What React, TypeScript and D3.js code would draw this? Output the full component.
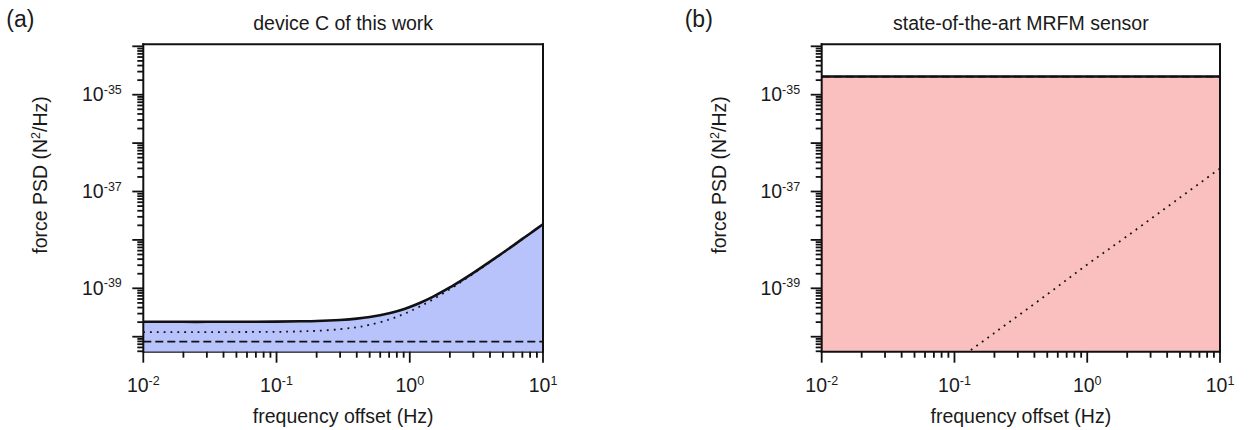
import React, { useRef, useEffect } from 'react';
import * as d3 from 'd3';

const W = 1249;
const H = 430;
const FONT = '"Liberation Sans", Arial, Helvetica, sans-serif';

// panel (a): device C of this work
const freqA = [0.01, 0.02, 0.03, 0.05, 0.1, 0.15, 0.2, 0.3, 0.4, 0.5, 0.7, 0.85, 1, 1.2, 1.5, 2, 2.5, 3, 4, 5, 6, 7, 8, 10];
const totalA = [2.03e-40, 2.03e-40, 2.03e-40, 2.04e-40, 2.05e-40, 2.08e-40, 2.11e-40, 2.22e-40, 2.36e-40, 2.55e-40, 3.05e-40, 3.54e-40, 4.12e-40, 5.04e-40, 6.73e-40, 1.04e-39, 1.51e-39, 2.08e-39, 3.55e-39, 5.43e-39, 7.73e-39, 1.05e-38, 1.36e-38, 2.11e-38];
const dottedA = [1.24e-40, 1.24e-40, 1.24e-40, 1.25e-40, 1.26e-40, 1.29e-40, 1.32e-40, 1.43e-40, 1.57e-40, 1.76e-40, 2.26e-40, 2.75e-40, 3.33e-40, 4.25e-40, 5.94e-40, 9.6e-40, 1.43e-39, 2.0e-39, 3.47e-39, 5.35e-39, 7.65e-39, 1.04e-38, 1.35e-38, 2.1e-38];
const dashedFreqA = [0.01, 10];
const dashedA = [7.9e-41, 7.9e-41];

// panel (b): state-of-the-art MRFM sensor
const freqB = [0.01, 10];
const totalB = [2.37e-35, 2.37e-35];
const dashedB = [2.36e-35, 2.36e-35];
const dottedFreqB = [0.1, 0.2, 0.5, 1, 2, 5, 10];
const dottedB = [3.0e-41, 1.2e-40, 7.5e-40, 3.1e-39, 1.2e-38, 7.5e-38, 3.0e-37];

// axes
const xDomain = [0.01, 10];
const yDomain = [4.9e-41, 1.1e-34];
const xTickExps = [-2, -1, 0, 1];
const yLabelExps = [-35, -37, -39];

const panels = [
  {
    id: 'a', letter: '(a)', title: 'device C of this work',
    left: 143.3, right: 543, fill: '#b9c3fb', bottomOnTop: false,
    solid: { f: freqA, v: totalA },
    dotted: { f: freqA, v: dottedA },
    dashed: { f: dashedFreqA, v: dashedA },
  },
  {
    id: 'b', letter: '(b)', title: 'state-of-the-art MRFM sensor',
    left: 821.7, right: 1220, fill: '#fac0c0', bottomOnTop: true,
    solid: { f: freqB, v: totalB },
    dotted: { f: dottedFreqB, v: dottedB },
    dashed: { f: freqB, v: dashedB },
  },
];

const TOP = 44.3;
const BOTTOM = 351.7;

const drawPanel = (svg, p) => {
  const x = d3.scaleLog().domain(xDomain).range([p.left, p.right]);
  const y = d3.scaleLog().domain(yDomain).range([BOTTOM, TOP]);
  const g = svg.append('g');
  const pts = (s) => s.f.map((f, i) => [f, s.v[i]]);

  const clipId = `clip-${p.id}`;
  g.append('clipPath').attr('id', clipId)
    .append('rect')
    .attr('x', p.left).attr('y', TOP)
    .attr('width', p.right - p.left).attr('height', BOTTOM - TOP);

  // bottom axis line sits under the fill in (a)
  if (!p.bottomOnTop) {
    g.append('line')
      .attr('x1', p.left).attr('x2', p.right)
      .attr('y1', BOTTOM).attr('y2', BOTTOM)
      .attr('stroke', '#111').attr('stroke-width', 2);
  }

  const area = d3.area()
    .x(d => x(d[0]))
    .y0(BOTTOM)
    .y1(d => y(d[1]))
    .curve(d3.curveCatmullRom);

  const line = d3.line()
    .x(d => x(d[0]))
    .y(d => y(d[1]))
    .curve(d3.curveCatmullRom);

  const plot = g.append('g').attr('clip-path', `url(#${clipId})`);

  plot.append('path')
    .attr('d', area(pts(p.solid)))
    .attr('fill', p.fill);

  plot.append('path')
    .attr('d', line(pts(p.dashed)))
    .attr('fill', 'none')
    .attr('stroke', '#111')
    .attr('stroke-width', 1.6)
    .attr('stroke-dasharray', '8,4');

  plot.append('path')
    .attr('d', line(pts(p.dotted)))
    .attr('fill', 'none')
    .attr('stroke', '#111')
    .attr('stroke-width', 1.8)
    .attr('stroke-dasharray', '1.8,5');

  plot.append('path')
    .attr('d', line(pts(p.solid)))
    .attr('fill', 'none')
    .attr('stroke', '#111')
    .attr('stroke-width', 2.6);

  // frame
  const frame = [
    [p.left, TOP, p.right, TOP],
    [p.right, TOP, p.right, BOTTOM],
    [p.left, TOP, p.left, BOTTOM],
  ];
  if (p.bottomOnTop) frame.push([p.left, BOTTOM, p.right, BOTTOM]);
  g.selectAll('.frame')
    .data(frame)
    .enter()
    .append('line')
    .attr('x1', d => d[0]).attr('y1', d => d[1])
    .attr('x2', d => d[2]).attr('y2', d => d[3])
    .attr('stroke', '#111')
    .attr('stroke-width', 2)
    .attr('stroke-linecap', 'square');

  // y ticks
  const yTicks = [];
  for (let e = -41; e <= -34; e++) {
    for (let k = 1; k <= 9; k++) {
      const v = k * Math.pow(10, e);
      if (v >= yDomain[0] && v <= yDomain[1]) yTicks.push({ v, major: k === 1 });
    }
  }
  g.selectAll('.ytick')
    .data(yTicks)
    .enter()
    .append('line')
    .attr('x1', d => p.left - (d.major ? 11 : 6))
    .attr('x2', p.left)
    .attr('y1', d => y(d.v)).attr('y2', d => y(d.v))
    .attr('stroke', '#111')
    .attr('stroke-width', 1.8);

  // x ticks
  const xTicks = [];
  for (let e = -2; e <= 1; e++) {
    for (let k = 1; k <= 9; k++) {
      const v = k * Math.pow(10, e);
      if (v <= xDomain[1] * 1.0001) xTicks.push({ v, major: k === 1 });
    }
  }
  g.selectAll('.xtick')
    .data(xTicks)
    .enter()
    .append('line')
    .attr('x1', d => x(d.v)).attr('x2', d => x(d.v))
    .attr('y1', BOTTOM)
    .attr('y2', d => BOTTOM + (d.major ? 11 : 6))
    .attr('stroke', '#111')
    .attr('stroke-width', 1.8);

  // y tick labels
  yLabelExps.forEach(e => {
    const t = g.append('text')
      .attr('x', p.left - 21.5)
      .attr('y', y(Math.pow(10, e)) + 6.5)
      .attr('text-anchor', 'end')
      .style('font-size', '19.5px');
    t.append('tspan').text('10');
    t.append('tspan').attr('dy', -7.5).style('font-size', '12.5px').text(String(e));
  });

  // x tick labels
  xTickExps.forEach(e => {
    const t = g.append('text')
      .attr('x', x(Math.pow(10, e)))
      .attr('y', 392)
      .attr('text-anchor', 'middle')
      .style('font-size', '19.5px');
    t.append('tspan').text('10');
    t.append('tspan').attr('dy', -7.5).style('font-size', '12.5px').text(String(e));
  });

  const cx = (p.left + p.right) / 2;

  // x axis label
  g.append('text')
    .attr('x', cx)
    .attr('y', 423)
    .attr('text-anchor', 'middle')
    .style('font-size', '19.5px')
    .text('frequency offset (Hz)');

  // y axis label
  const yl = g.append('text')
    .attr('transform', `translate(${p.left - 96},175) rotate(-90)`)
    .attr('text-anchor', 'middle')
    .style('font-size', '19.5px');
  yl.append('tspan').text('force PSD (N');
  yl.append('tspan').attr('dy', -7).style('font-size', '12.5px').text('2');
  yl.append('tspan').attr('dy', 7).text('/Hz)');

  // title
  g.append('text')
    .attr('x', cx)
    .attr('y', 29.5)
    .attr('text-anchor', 'middle')
    .style('font-size', '19.5px')
    .text(p.title);

  // panel letter
  g.append('text')
    .attr('x', p.left - 137)
    .attr('y', 27)
    .style('font-size', '23px')
    .text(p.letter);
};

const App = () => {
  const svgRef = useRef(null);

  useEffect(() => {
    const svg = d3.select(svgRef.current);
    svg.selectAll('*').remove();
    svg.append('rect').attr('width', W).attr('height', H).attr('fill', '#fff');
    const root = svg.append('g').style('font-family', FONT).attr('fill', '#1a1a1a');
    panels.forEach(p => drawPanel(root, p));
  }, []);

  return (
    <svg
      ref={svgRef}
      width={W}
      height={H}
      style={{ position: 'absolute', left: 0, top: 0, display: 'block' }}
    />
  );
};

export default App;
